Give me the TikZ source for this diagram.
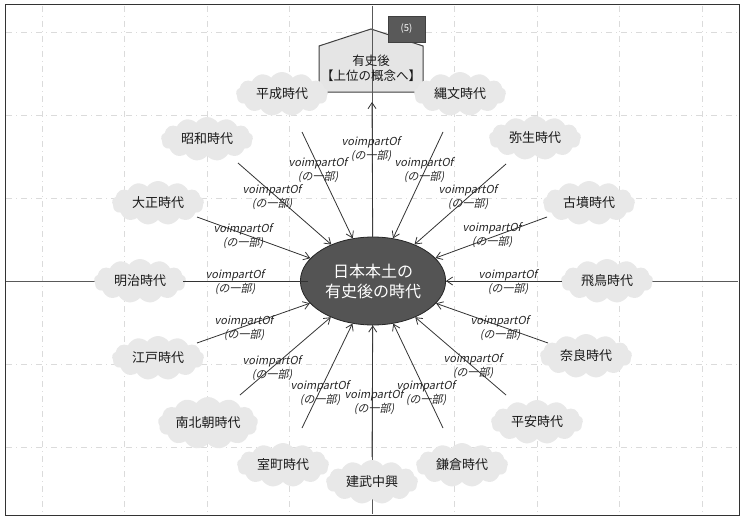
\documentclass[tikz,border=0pt]{standalone}
\usepackage{fontspec}
\setmainfont{Noto Sans CJK JP}
\newfontfamily\lblfont[FakeSlant=0.2]{Noto Sans CJK JP}
\usetikzlibrary{shapes.geometric,shapes.symbols,arrows.meta}
\begin{document}
\begin{tikzpicture}[x=1pt,y=-1pt,
  gridline/.style={gray!28, line width=0.45pt, dash pattern=on 6pt off 4pt on 1pt off 4pt},
  axis/.style={black!65, line width=0.6pt},
  period/.style={cloud, cloud puffs=13, cloud puff arc=110, aspect=2.2, fill=gray!18, inner sep=0pt,
    minimum width=92pt, minimum height=44pt, font=\fontsize{13}{15}\selectfont, text=black!90},
  rel/.style={black!80, line width=0.8pt, -{Straight Barb[length=6pt,width=8pt]}},
  plain/.style={black!80, line width=0.8pt},
  lbl/.style={font=\lblfont\fontsize{11}{13.5}\selectfont, align=center, inner sep=0pt, text=black!85},
]
\useasboundingbox (0,0) rectangle (744,519);
\fill[white] (0,0) rectangle (744,519);

% grid
\foreach \x in {42,124.5,207,289.5,454.5,537,619.5,702}
  \draw[gridline] (\x,6) -- (\x,514);
\foreach \y in {32,115,198,364,447}
  \draw[gridline] (6,\y) -- (738,\y);

% horizontal axis
\draw[axis] (6,281) -- (738,281);

% house shape
\path[fill=gray!20, draw=black!75, line width=1pt]
  (319,92) -- (319,46) -- (371,29) -- (423,46) -- (423,92) -- cycle;
% vertical axis
\draw[axis] (372,6) -- (372,514);
\node[align=center, font=\fontsize{12.5}{15}\selectfont, text=black!90, inner sep=0pt] (house) at (371,68)
  {有史後\\【上位の概念へ】};
\node[fill=black!65, draw=black!75, minimum width=37pt, minimum height=26pt, inner sep=0pt,
  text=white, font=\fontsize{9.5}{10}\selectfont] (num) at (406.5,29) {(5)};

% periods
\node[period] (heisei) at (282,94) {平成時代};
\node[period] (jomon) at (460,94) {縄文時代};
\node[period] (showa) at (207,139) {昭和時代};
\node[period] (yayoi) at (535,138) {弥生時代};
\node[period] (taisho) at (158,203) {大正時代};
\node[period] (kofun) at (589,203) {古墳時代};
\node[period] (meiji) at (140,281) {明治時代};
\node[period] (asuka) at (607,281) {飛鳥時代};
\node[period] (edo) at (158,358) {江戸時代};
\node[period] (nara) at (586,356) {奈良時代};
\node[period, minimum width=100pt] (nanboku) at (208,423) {南北朝時代};
\node[period] (heian) at (537,422) {平安時代};
\node[period] (muromachi) at (283,465) {室町時代};
\node[period] (kamakura) at (462,465) {鎌倉時代};
\node[period] (kenmu) at (372,482) {建武中興};

% edge starting points
\coordinate (s-heisei) at (302,132);
\coordinate (s-jomon) at (443,132);
\coordinate (s-showa) at (238,163);
\coordinate (s-yayoi) at (506,164);
\coordinate (s-taisho) at (197,217);
\coordinate (s-kofun) at (547,217);
\coordinate (s-meiji) at (183,281);
\coordinate (s-asuka) at (562,281);
\coordinate (s-edo) at (197,343);
\coordinate (s-nara) at (548,343);
\coordinate (s-nanboku) at (240,395);
\coordinate (s-heian) at (506,395);
\coordinate (s-muromachi) at (302,428);
\coordinate (s-kamakura) at (443,428);
\coordinate (s-kenmu) at (372,457);
\coordinate (htip) at (372,102);

% small port box on the left of the centre
\node[draw=black!80, fill=white, line width=0.6pt, minimum width=10pt, minimum height=13pt, inner sep=0pt]
  (mbox) at (313,281) {};

% centre
\node[ellipse, minimum width=116pt, minimum height=88pt, fill=black!67, draw=black!85, line width=0.8pt,
  text=white, align=center, font=\fontsize{16}{20}\selectfont] (c) at (373,281)
  {日本本土の\\有史後の時代};

% connectors
\draw[rel] (c) -- (htip);
\foreach \n in {heisei,jomon,showa,yayoi,taisho,kofun,asuka,edo,nara,nanboku,heian,muromachi,kamakura,kenmu}
  \draw[rel] (s-\n) -- (c);
\draw[plain] (s-meiji) -- (mbox.west);

% labels
\node[lbl] (l-house) at (371,149) {voimpartOf\\(の一部)};
\node[lbl] (l-heisei) at (318,170) {voimpartOf\\(の一部)};
\node[lbl] (l-jomon) at (424,170) {voimpartOf\\(の一部)};
\node[lbl] (l-showa) at (272,197) {voimpartOf\\(の一部)};
\node[lbl] (l-yayoi) at (468,197) {voimpartOf\\(の一部)};
\node[lbl] (l-taisho) at (243,236) {voimpartOf\\(の一部)};
\node[lbl] (l-kofun) at (492,235) {voimpartOf\\(の一部)};
\node[lbl] (l-meiji) at (235,282) {voimpartOf\\(の一部)};
\node[lbl] (l-asuka) at (508,282) {voimpartOf\\(の一部)};
\node[lbl] (l-edo) at (244,328) {voimpartOf\\(の一部)};
\node[lbl] (l-nara) at (500,328) {voimpartOf\\(の一部)};
\node[lbl] (l-nanboku) at (272,368) {voimpartOf\\(の一部)};
\node[lbl] (l-heian) at (473,366) {voimpartOf\\(の一部)};
\node[lbl] (l-muromachi) at (320,393) {voimpartOf\\(の一部)};
\node[lbl] (l-kamakura) at (426,393) {voimpartOf\\(の一部)};
\node[lbl] (l-kenmu) at (374,402) {voimpartOf\\(の一部)};

% frame
\draw[black!80, line width=1pt] (5,5) rectangle (739,515);
\end{tikzpicture}
\end{document}
